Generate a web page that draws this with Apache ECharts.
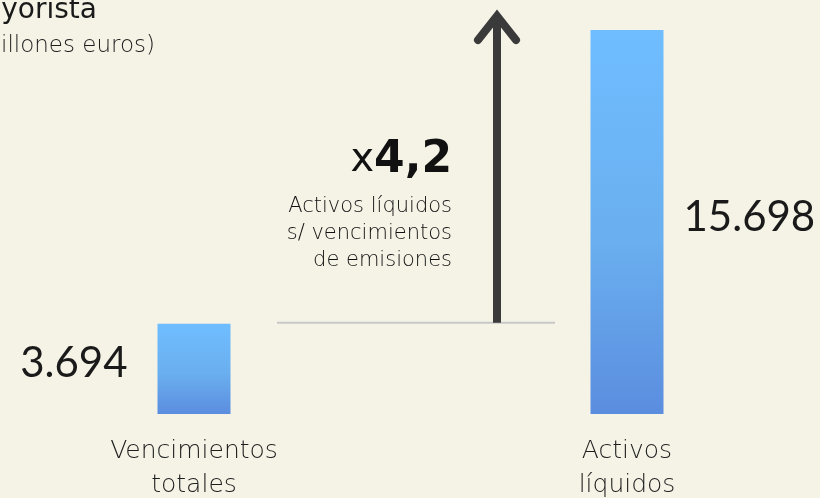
<!DOCTYPE html>
<html><head><meta charset="utf-8">
<script src="https://cdn.jsdelivr.net/npm/echarts@6/dist/echarts.min.js"></script>
<style>html,body{margin:0;padding:0;background:#f5f3e6}#c{width:820px;height:498px}</style>
</head><body><div id="c"></div>
<script>
const categories = ['Vencimientos\ntotales', 'Activos\nlíquidos'];
const values = [3694, 15698];
const valueLabels = ['3.694', '15.698'];
const ratioText = '4,2';
const titleText = 'Financiación mayorista';
const subtitleText = '(millones euros)';
const noteLines = ['Activos líquidos', 's/ vencimientos', 'de emisiones'];

const LIGHT = "'DejaVu Sans Light', 'DejaVu Sans ExtraLight', 'DejaVu Sans'";
const chart = echarts.init(document.getElementById('c'));
const grad = new echarts.graphic.LinearGradient(0, 0, 0, 1, [
  {offset: 0, color: '#6fbdff'}, {offset: 0.55, color: '#6aafef'}, {offset: 1, color: '#5b8ddf'}
]);
chart.setOption({
  backgroundColor: '#f5f3e6',
  animation: false,
  grid: {left: 194, right: 193, top: 30, bottom: 84, outerBoundsMode: 'none', containLabel: false},
  xAxis: {
    type: 'category', data: categories, boundaryGap: false,
    axisLine: {show: false}, axisTick: {show: false},
    axisLabel: {fontFamily: LIGHT, fontWeight: 200, fontSize: 25, color: '#1e1e1e', margin: 20, lineHeight: 34, interval: 0}
  },
  yAxis: {type: 'value', min: 0, max: values[1], show: false, splitLine: {show: false}},
  series: [{
    type: 'bar', barWidth: 73,
    data: values.map((v, i) => ({
      value: v,
      label: {
        show: true, position: i === 0 ? 'left' : 'right', distance: i === 0 ? 30 : 20,
        offset: [0, -5],
        formatter: valueLabels[i], fontFamily: 'Lato', fontWeight: 400, fontSize: 42, color: '#1a1a1a'
      }
    })),
    itemStyle: {color: grad}
  }]
});

function draw() {
  const base = chart.convertToPixel({gridIndex: 0}, [0, values[0]]);
  const yLine = base[1] - 1;
  const ax = 497;
  chart.setOption({
    graphic: [
      {type: 'text', x: 97, y: 11, style: {text: titleText, align: 'right', verticalAlign: 'middle', font: "400 28px 'DejaVu Sans'", fill: '#1a1a1a'}},
      {type: 'text', x: 155, y: 46, style: {text: subtitleText, align: 'right', verticalAlign: 'middle', font: '200 23px ' + LIGHT, fill: '#1e1e1e'}},
      {type: 'line', shape: {x1: 277, y1: yLine, x2: 555, y2: yLine}, style: {stroke: '#c8c8c8', lineWidth: 2}},
      {type: 'line', shape: {x1: ax, y1: yLine, x2: ax, y2: 16}, style: {stroke: '#3a3a3a', lineWidth: 8}},
      {type: 'polyline', shape: {points: [[478, 40], [ax, 16], [516, 40]]}, style: {stroke: '#3a3a3a', lineWidth: 8, lineCap: 'round', lineJoin: 'miter', fill: null}},
      {type: 'text', x: 452, y: 161, style: {
        text: '{a|x}{b|' + ratioText + '}', align: 'right', verticalAlign: 'middle',
        rich: {a: {fontFamily: "'DejaVu Sans'", fontSize: 40, fontWeight: 400, fill: '#111'}, b: {fontFamily: "'DejaVu Sans'", fontSize: 44, fontWeight: 700, fill: '#111'}}
      }},
      {type: 'text', x: 452, y: 234, style: {text: noteLines.join('\n'), align: 'right', verticalAlign: 'middle', lineHeight: 27, font: '200 21px ' + LIGHT, fill: '#111'}}
    ]
  });
}
draw();
</script></body></html>
